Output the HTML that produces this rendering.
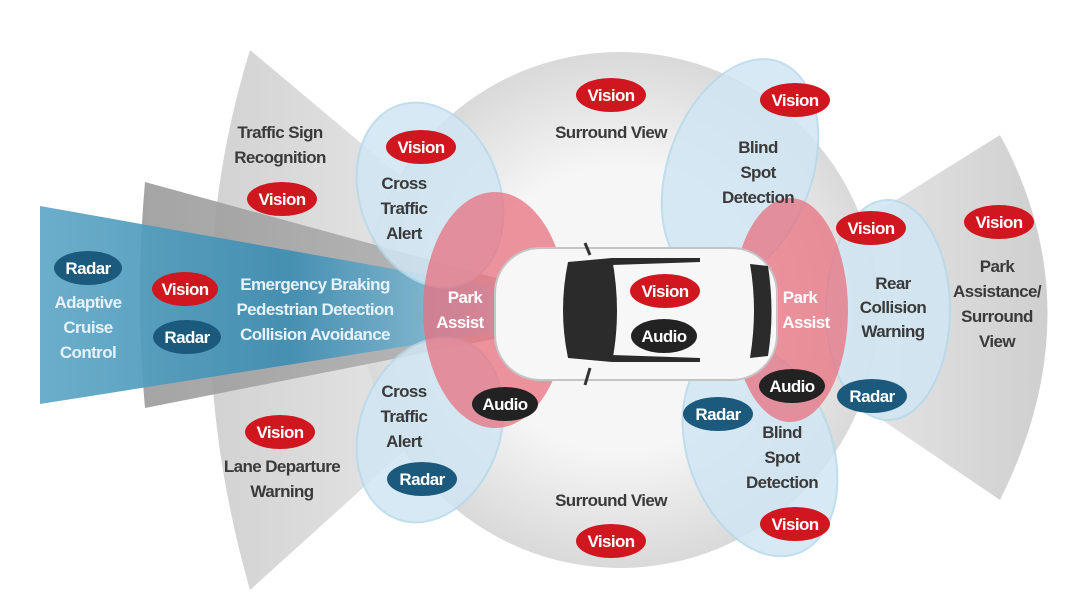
<!DOCTYPE html>
<html><head><meta charset="utf-8"><style>
html,body{margin:0;padding:0;background:#fff;}
svg{display:block;}
text{font-family:"Liberation Sans",sans-serif;fill:#3a3a3a;font-size:17px;font-weight:bold;letter-spacing:-0.6px;text-anchor:middle;}
.w{fill:#fff;}
.l{fill:#e6f2f8;}
</style></head><body>
<svg width="1080" height="607" viewBox="0 0 1080 607">
<defs>
<linearGradient id="beam" x1="0" x2="1" y1="0" y2="0">
<stop offset="0" stop-color="#5ea7c6"/><stop offset="0.5" stop-color="#3d8db2"/><stop offset="1" stop-color="#a9d3e6"/></linearGradient>
<radialGradient id="gc" cx="0.5" cy="0.5" r="0.5">
<stop offset="0.55" stop-color="#f6f6f6"/><stop offset="1" stop-color="#d9d9d9"/></radialGradient>
<linearGradient id="fanL" x1="0" x2="1"><stop offset="0" stop-color="#d2d2d2"/><stop offset="1" stop-color="#f2f2f2"/></linearGradient>
<linearGradient id="fanR" x1="1" x2="0"><stop offset="0" stop-color="#cfcfcf"/><stop offset="1" stop-color="#f4f4f4"/></linearGradient>
<linearGradient id="dk" x1="0" x2="1"><stop offset="0" stop-color="#9a9a9a"/><stop offset="1" stop-color="#b8b8b8"/></linearGradient>
</defs>
<path d="M560,310 L250,50 Q170,310 250,590 Z" fill="url(#fanL)"/>
<path d="M720,310 L1000,135 Q1095,310 1000,500 Z" fill="url(#fanR)"/>
<circle cx="620" cy="310" r="258" fill="url(#gc)"/>
<path d="M540,290 L145,182 Q135,295 145,408 L540,330 Z" fill="url(#dk)" opacity="0.9"/>
<path d="M540,295 L40,206 L40,404 L540,325 Z" fill="url(#beam)" opacity="0.92"/>
<g fill="#cfe6f3" stroke="#b5d8ea" stroke-width="2" opacity="0.85">
<ellipse cx="430" cy="195" rx="70" ry="95" transform="rotate(-20 430 195)"/>
<ellipse cx="430" cy="430" rx="70" ry="95" transform="rotate(20 430 430)"/>
<ellipse cx="740" cy="170" rx="72" ry="115" transform="rotate(20 740 170)"/>
<ellipse cx="760" cy="450" rx="72" ry="110" transform="rotate(-20 760 450)"/>
<ellipse cx="888" cy="310" rx="62" ry="110"/>
</g>
<ellipse cx="495" cy="310" rx="72" ry="118" fill="#e8707f" opacity="0.75"/>
<ellipse cx="790" cy="310" rx="58" ry="112" fill="#e8707f" opacity="0.75"/>
<!-- car -->
<g>
<rect x="495" y="248" width="282" height="132" rx="45" fill="#f7f7f7" stroke="#c4c4c4" stroke-width="2"/>
<path d="M568,262 L612,258 Q622,312 612,362 L568,358 Q558,310 568,262Z" fill="#2b2b2b"/>
<path d="M612,258 L700,258 L700,262 L612,265Z" fill="#2b2b2b"/>
<path d="M612,362 L700,362 L700,358 L612,355Z" fill="#2b2b2b"/>
<path d="M750,264 L768,266 Q775,312 768,356 L750,358 Q758,310 750,264Z" fill="#2b2b2b"/>
<path d="M585,243 L590,255 M585,385 L590,368" stroke="#333" stroke-width="3"/>
</g>
<g>
<ellipse cx="611" cy="95" rx="35" ry="17" fill="#d0161f"/><text x="611" y="101" class="w">Vision</text>
<ellipse cx="795" cy="100" rx="35" ry="17" fill="#d0161f"/><text x="795" y="106" class="w">Vision</text>
<ellipse cx="421" cy="147" rx="35" ry="17" fill="#d0161f"/><text x="421" y="153" class="w">Vision</text>
<ellipse cx="282" cy="199" rx="35" ry="17" fill="#d0161f"/><text x="282" y="205" class="w">Vision</text>
<ellipse cx="871" cy="228" rx="35" ry="17" fill="#d0161f"/><text x="871" y="234" class="w">Vision</text>
<ellipse cx="999" cy="222" rx="35" ry="17" fill="#d0161f"/><text x="999" y="228" class="w">Vision</text>
<ellipse cx="185" cy="289" rx="33" ry="17" fill="#d0161f"/><text x="185" y="295" class="w">Vision</text>
<ellipse cx="665" cy="291" rx="35" ry="17" fill="#d0161f"/><text x="665" y="297" class="w">Vision</text>
<ellipse cx="280" cy="432" rx="35" ry="17" fill="#d0161f"/><text x="280" y="438" class="w">Vision</text>
<ellipse cx="795" cy="524" rx="35" ry="17" fill="#d0161f"/><text x="795" y="530" class="w">Vision</text>
<ellipse cx="611" cy="541" rx="35" ry="17" fill="#d0161f"/><text x="611" y="547" class="w">Vision</text>
<ellipse cx="88" cy="268" rx="34" ry="17" fill="#1b5a7c"/><text x="88" y="274" class="w">Radar</text>
<ellipse cx="187" cy="337" rx="34" ry="17" fill="#1b5a7c"/><text x="187" y="343" class="w">Radar</text>
<ellipse cx="422" cy="479" rx="35" ry="17" fill="#1b5a7c"/><text x="422" y="485" class="w">Radar</text>
<ellipse cx="718" cy="414" rx="35" ry="17" fill="#1b5a7c"/><text x="718" y="420" class="w">Radar</text>
<ellipse cx="872" cy="396" rx="35" ry="17" fill="#1b5a7c"/><text x="872" y="402" class="w">Radar</text>
<ellipse cx="664" cy="336" rx="33" ry="17" fill="#222"/><text x="664" y="342" class="w">Audio</text>
<ellipse cx="505" cy="404" rx="33" ry="17" fill="#222"/><text x="505" y="410" class="w">Audio</text>
<ellipse cx="792" cy="386" rx="33" ry="17" fill="#222"/><text x="792" y="392" class="w">Audio</text>
</g>
<text x="611" y="138">Surround View</text>
<text x="611" y="506">Surround View</text>
<text x="280" y="138">Traffic Sign</text><text x="280" y="163">Recognition</text>
<text x="404" y="189">Cross</text><text x="404" y="214">Traffic</text><text x="404" y="239">Alert</text>
<text x="404" y="397">Cross</text><text x="404" y="422">Traffic</text><text x="404" y="447">Alert</text>
<text x="758" y="153">Blind</text><text x="758" y="178">Spot</text><text x="758" y="203">Detection</text>
<text x="782" y="438">Blind</text><text x="782" y="463">Spot</text><text x="782" y="488">Detection</text>
<text x="282" y="472">Lane Departure</text><text x="282" y="497">Warning</text>
<text x="88" y="308" class="l">Adaptive</text><text x="88" y="333" class="l">Cruise</text><text x="88" y="358" class="l">Control</text>
<text x="315" y="290" class="l">Emergency Braking</text>
<text x="315" y="315" class="l">Pedestrian Detection</text>
<text x="315" y="340" class="l">Collision Avoidance</text>
<text x="465" y="303" class="w">Park</text><text x="460" y="328" class="w">Assist</text>
<text x="800" y="303" class="w">Park</text><text x="806" y="328" class="w">Assist</text>
<text x="893" y="289">Rear</text><text x="893" y="313">Collision</text><text x="893" y="337">Warning</text>
<text x="997" y="272">Park</text><text x="997" y="297">Assistance/</text><text x="997" y="322">Surround</text><text x="997" y="347">View</text>
</svg>
</body></html>
